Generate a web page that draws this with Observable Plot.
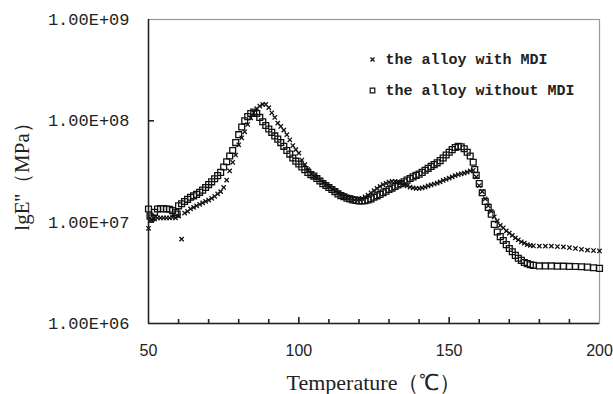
<!DOCTYPE html>
<html>
<head>
<meta charset="utf-8">
<script src="https://cdn.jsdelivr.net/npm/d3@7"></script>
<script src="https://cdn.jsdelivr.net/npm/@observablehq/plot@0.6"></script>
<style>
  html, body { margin: 0; padding: 0; background: #fff; }
  #chart { width: 613px; height: 394px; }
</style>
</head>
<body>
<div id="chart"></div>
<script>
// ---- data ----
const seriesNames = ["the alloy with MDI", "the alloy without MDI"];

const tempWithout = [50,50.5,51,52,53,54,55,56,57,58,59,59.5,60,61,62,63,64,65,66,67,68,69,70,71,72,73,74,75,76,77,78,79,80,81,82,83,84,85,86,87,88,89,90,91,92,93,94,95,96,97,98,99,100,101,102,103,104,105,106,107,108,109,110,111,112,113,114,115,116,117,118,119,120,121,122,123,124,125,126,127,128,129,130,131,132,133,134,135,136,137,138,139,140,141,142,143,144,145,146,147,148,149,150,151,152,153,154,155,156,157,158,158.5,159,160,161,162,163,164,165,166,167,168,169,170,171,172,173,174,175,176,177,178,180,182,184,186,188,190,192,194,196,198,200];
const valWithout = [1.35e7,1.15e7,1.1e7,1.25e7,1.35e7,1.36e7,1.36e7,1.35e7,1.34e7,1.3e7,1.25e7,1.2e7,1.45e7,1.52e7,1.6e7,1.68e7,1.76e7,1.82e7,1.88e7,1.97e7,2.07e7,2.2e7,2.35e7,2.5e7,2.68e7,2.88e7,3.1e7,3.5e7,3.95e7,4.5e7,5.1e7,6.1e7,7.3e7,8.7e7,1.0e8,1.1e8,1.18e8,1.22e8,1.18e8,1.08e8,9.8e7,9.0e7,8.3e7,7.7e7,7.1e7,6.6e7,6.1e7,5.6e7,5.1e7,4.7e7,4.3e7,4.0e7,3.75e7,3.5e7,3.3e7,3.1e7,2.95e7,2.85e7,2.7e7,2.55e7,2.4e7,2.3e7,2.2e7,2.1e7,2.0e7,1.9e7,1.83e7,1.78e7,1.72e7,1.7e7,1.66e7,1.64e7,1.62e7,1.62e7,1.63e7,1.66e7,1.7e7,1.76e7,1.82e7,1.88e7,1.95e7,2.02e7,2.1e7,2.17e7,2.25e7,2.33e7,2.4e7,2.5e7,2.6e7,2.7e7,2.8e7,2.9e7,2.98e7,3.1e7,3.25e7,3.4e7,3.55e7,3.7e7,3.85e7,4.05e7,4.3e7,4.6e7,4.9e7,5.2e7,5.45e7,5.6e7,5.55e7,5.3e7,4.9e7,4.5e7,3.9e7,3.3e7,2.9e7,2.4e7,1.95e7,1.6e7,1.4e7,1.2e7,9.5e6,8.0e6,7.2e6,6.6e6,6.0e6,5.5e6,5.1e6,4.7e6,4.4e6,4.2e6,4.0e6,3.9e6,3.8e6,3.75e6,3.7e6,3.7e6,3.7e6,3.68e6,3.68e6,3.66e6,3.65e6,3.63e6,3.6e6,3.55e6,3.5e6];

const tempWith = [50,50.5,51,52,53,54,55,56,57,58,59,60,61,62,63,64,65,66,67,68,69,70,71,72,73,74,75,76,77,78,79,80,81,82,83,84,85,86,87,88,89,90,91,92,93,94,95,96,97,98,99,100,101,102,103,104,105,106,107,108,109,110,111,112,113,114,115,116,117,118,119,120,121,122,123,124,125,126,127,128,129,130,131,132,133,134,135,136,137,138,139,140,141,142,143,144,145,146,147,148,149,150,151,152,153,154,155,156,157,158,159,160,161,162,163,164,165,166,167,168,169,170,171,172,173,174,175,176,177,178,180,182,184,186,188,190,192,194,196,198,200];
const valWith = [8.7e6,1.1e7,1.05e7,1.08e7,1.1e7,1.1e7,1.1e7,1.1e7,1.1e7,1.12e7,1.1e7,1.15e7,6.8e6,1.23e7,1.28e7,1.35e7,1.4e7,1.45e7,1.5e7,1.55e7,1.6e7,1.65e7,1.72e7,1.8e7,1.9e7,2.0e7,2.2e7,2.6e7,3.2e7,3.9e7,4.6e7,5.8e7,6.8e7,7.8e7,9.2e7,1.07e8,1.2e8,1.32e8,1.4e8,1.45e8,1.45e8,1.35e8,1.2e8,1.08e8,9.5e7,8.8e7,8.1e7,7.3e7,6.5e7,5.7e7,5.2e7,4.8e7,4.1e7,3.7e7,3.3e7,3.0e7,2.85e7,2.75e7,2.6e7,2.45e7,2.35e7,2.25e7,2.12e7,2.02e7,1.95e7,1.88e7,1.82e7,1.78e7,1.74e7,1.72e7,1.7e7,1.7e7,1.72e7,1.78e7,1.85e7,1.95e7,2.05e7,2.15e7,2.25e7,2.35e7,2.42e7,2.48e7,2.52e7,2.52e7,2.5e7,2.45e7,2.35e7,2.28e7,2.22e7,2.18e7,2.15e7,2.15e7,2.18e7,2.22e7,2.28e7,2.33e7,2.38e7,2.43e7,2.5e7,2.58e7,2.65e7,2.72e7,2.8e7,2.88e7,2.95e7,3.0e7,3.05e7,3.12e7,3.2e7,3.25e7,2.8e7,2.3e7,2.0e7,1.7e7,1.45e7,1.28e7,1.13e7,1.03e7,9.3e6,8.8e6,8.2e6,7.8e6,7.4e6,7.0e6,6.7e6,6.4e6,6.2e6,6.0e6,5.9e6,5.85e6,5.8e6,5.8e6,5.8e6,5.75e6,5.7e6,5.6e6,5.5e6,5.4e6,5.3e6,5.25e6,5.2e6];

const xTicks = [50, 100, 150, 200];
const xMinorTicks = [60, 70, 80, 90, 110, 120, 130, 140, 160, 170, 180, 190];
const yTicks = [1e6, 1e7, 1e8, 1e9];
const yTickLabels = ["1.00E+06", "1.00E+07", "1.00E+08", "1.00E+09"];
const xLabel = "Temperature（℃）";
const yLabel = "lgE''（MPa）";

// ---- build tables ----
const dataWithout = tempWithout.map((t, i) => ({t, v: valWithout[i]}));
const dataWith = tempWith.map((t, i) => ({t, v: valWith[i]}));

// frame size in px (used only to turn full-height ticks into short inward ticks)
const W = 613, H = 394, mL = 148, mR = 14, mT = 19, mB = 71;
const fw = W - mL - mR, fh = H - mT - mB;

const chart = Plot.plot({
  width: W,
  height: H,
  marginLeft: mL,
  marginRight: mR,
  marginTop: mT,
  marginBottom: mB,
  style: {background: "#fff", color: "#000"},
  x: {domain: [50, 200]},
  y: {type: "log", domain: [1e6, 1e9]},
  marks: [
    Plot.frame({stroke: "#999", strokeWidth: 1.2}),
    // data
    Plot.dot(dataWithout, {x: "t", y: "v", symbol: "square", r: 3.3, stroke: "#111", strokeWidth: 1.3, fill: "none"}),
    Plot.dot(dataWith, {x: "t", y: "v", symbol: "times", r: 2.1, stroke: "#111", strokeWidth: 1.3}),
    // axes lines
    Plot.ruleX([50], {stroke: "#222", strokeWidth: 1.5}),
    Plot.ruleY([1e6], {stroke: "#222", strokeWidth: 1.5}),
    // x ticks (inward)
    Plot.tickX(xTicks.slice(1, 3), {x: d => d, insetTop: fh - 6, stroke: "#222", strokeWidth: 1.6}),
    Plot.tickX(xMinorTicks, {x: d => d, insetTop: fh - 4, stroke: "#222", strokeWidth: 1.6}),
    Plot.axisX({ticks: xTicks, tickSize: 0, tickPadding: 21, label: null,
      fontSize: 16, fontFamily: "Liberation Sans", fill: "#222"}),
    Plot.axisX({ticks: [], label: xLabel, labelAnchor: "center", labelArrow: "none", labelOffset: 66,
      fontSize: 22, fontFamily: "Liberation Serif", fill: "#222"}),
    // y ticks (inward)
    Plot.tickY(yTicks.slice(1, 3), {y: d => d, insetRight: fw - 6, stroke: "#222", strokeWidth: 1.6}),
    Plot.axisY({ticks: yTicks, tickSize: 0, tickPadding: 19, label: null,
      tickFormat: (d) => yTickLabels[yTicks.indexOf(d)],
      fontSize: 17, fontFamily: "Liberation Mono", fill: "#222"}),
    Plot.axisY({ticks: [], label: yLabel, labelAnchor: "center", labelArrow: "none", labelOffset: 134,
      fontSize: 21, fontFamily: "Liberation Serif", fill: "#222"}),
    // legend (inside the frame)
    Plot.dot([seriesNames[0]], {frameAnchor: "top-left", dx: 224, dy: 40, symbol: "times", r: 2, stroke: "#111", strokeWidth: 1.3}),
    Plot.dot([seriesNames[1]], {frameAnchor: "top-left", dx: 224, dy: 71, symbol: "square", r: 2.6, stroke: "#111", strokeWidth: 1.2, fill: "none"}),
    Plot.text([seriesNames[0]], {text: d => d, frameAnchor: "top-left", dx: 237, dy: 40, textAnchor: "start", lineAnchor: "middle",
      fontSize: 15, fontFamily: "Liberation Mono", fontWeight: "bold", fill: "#222"}),
    Plot.text([seriesNames[1]], {text: d => d, frameAnchor: "top-left", dx: 237, dy: 71, textAnchor: "start", lineAnchor: "middle",
      fontSize: 15, fontFamily: "Liberation Mono", fontWeight: "bold", fill: "#222"})
  ]
});
document.getElementById("chart").appendChild(chart);
</script>
</body>
</html>
